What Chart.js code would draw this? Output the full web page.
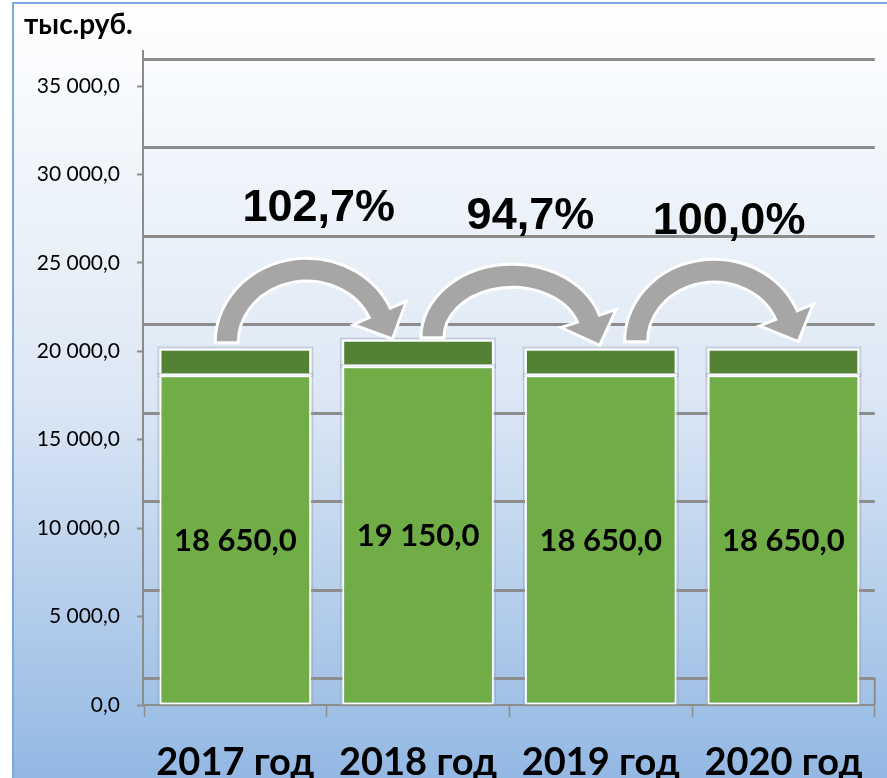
<!DOCTYPE html>
<html>
<head>
<meta charset="utf-8">
<script src="https://cdn.jsdelivr.net/npm/chart.js@4.4.1/dist/chart.umd.min.js"></script>
<style>
  html, body { margin: 0; padding: 0; background: #ffffff; }
  canvas { display: block; }
</style>
</head>
<body>
<canvas id="c" width="887" height="778"></canvas>
<script>
// ---- data ----
const categories = ['2017 год', '2018 год', '2019 год', '2020 год'];
const baseValues = [18650, 19150, 18650, 18650];
const topValues = [1500, 1500, 1500, 1500];
const growthLabels = ['102,7%', '94,7%', '100,0%'];
const unitLabel = 'тыс.руб.';
const yMin = 0;
const yMax = 35000;
const yStep = 5000;

// ---- styles ----
const FONT = 'Lato, "Open Sans", sans-serif';
const WALL_DEPTH = 27;
const GRID_COLOR = '#8c8c8c';
// arrow geometry relative to category midpoint / bar top (styling offsets)
const arrowStyles = [
  { dx: -20, dy: -6, rx: 80, ry: 73, endDeg: 24, lx: 12, ly: -37 },
  { dx: 3,   dy: -2, rx: 80, ry: 62, endDeg: 18, lx: 18, ly: -35 },
  { dx: 22,  dy: -7, rx: 78, ry: 71, endDeg: 22, lx: 15, ly: -25 }
];

function fmt(v) {
  const s = Math.abs(v).toFixed(1).split('.');
  const intPart = s[0].replace(/\B(?=(\d{3})+(?!\d))/g, ' ');
  return (v < 0 ? '-' : '') + intPart + ',' + s[1];
}

const bgPlugin = {
  id: 'bg',
  beforeDraw(chart) {
    const ctx = chart.ctx;
    const W = chart.width, H = chart.height;
    ctx.save();
    ctx.fillStyle = '#ffffff';
    ctx.fillRect(0, 0, W, H);
    const g = ctx.createLinearGradient(0, 2, 0, H);
    g.addColorStop(0, '#ffffff');
    g.addColorStop(0.5, '#dde8f5');
    g.addColorStop(1, '#93b8e3');
    ctx.fillStyle = g;
    ctx.fillRect(12, 2, W - 12, H - 2);
    ctx.strokeStyle = '#7aa9e0';
    ctx.lineWidth = 2;
    ctx.beginPath();
    ctx.moveTo(13, H);
    ctx.lineTo(13, 3);
    ctx.lineTo(W, 3);
    ctx.stroke();
    ctx.restore();
  }
};

const wallPlugin = {
  id: 'wall',
  beforeDatasetsDraw(chart) {
    const ctx = chart.ctx;
    const y = chart.scales.y;
    const area = chart.chartArea;
    ctx.save();
    ctx.strokeStyle = GRID_COLOR;
    ctx.lineWidth = 3;
    y.ticks.forEach(t => {
      const py = Math.round(y.getPixelForValue(t.value) - WALL_DEPTH) + 0.5;
      ctx.beginPath();
      ctx.moveTo(area.left, py);
      ctx.lineTo(area.right, py);
      ctx.stroke();
    });
    // left wall / axis line
    ctx.lineWidth = 2;
    const topY = y.getPixelForValue(yMax) - WALL_DEPTH - 9;
    ctx.beginPath();
    ctx.moveTo(area.left - 1, topY);
    ctx.lineTo(area.left - 1, area.bottom);
    ctx.stroke();
    // right floor edge
    const zb = y.getPixelForValue(0);
    ctx.beginPath();
    ctx.moveTo(area.right, zb - WALL_DEPTH);
    ctx.lineTo(area.right, zb);
    ctx.stroke();
    ctx.restore();
  },
  beforeDatasetDraw(chart, args) {
    // faint outer edge around each bar segment
    const ctx = chart.ctx;
    ctx.save();
    ctx.strokeStyle = 'rgba(150,160,170,0.55)';
    ctx.lineWidth = 1;
    args.meta.data.forEach(bar => {
      const w = bar.width;
      const top = Math.min(bar.y, bar.base), bot = Math.max(bar.y, bar.base);
      ctx.strokeRect(bar.x - w / 2 - 1.5, top - 1.5, w + 3, bot - top + 3);
    });
    ctx.restore();
  }
};

const overlayPlugin = {
  id: 'overlay',
  afterDatasetsDraw(chart) {
    const ctx = chart.ctx;
    const xs = chart.scales.x, ys = chart.scales.y;
    ctx.save();
    // value labels in base segment
    const meta0 = chart.getDatasetMeta(0);
    ctx.fillStyle = '#000000';
    ctx.font = 'bold 31px ' + FONT;
    ctx.textAlign = 'center';
    ctx.textBaseline = 'middle';
    meta0.data.forEach((bar, i) => {
      const cy = (bar.y + bar.base) / 2;
      ctx.fillText(fmt(baseValues[i]), bar.x, cy + 1);
    });
    // arrows
    arrowStyles.forEach((a, i) => {
      const mid = (xs.getPixelForValue(i) + xs.getPixelForValue(i + 1)) / 2;
      const cx = mid + a.dx;
      const cy = ys.getPixelForValue(baseValues[i] + topValues[i]) + a.dy;
      const t = 23;
      const th = a.endDeg * Math.PI / 180;
      const endAng = 2 * Math.PI - th;
      const ex = cx + a.rx * Math.cos(th), ey = cy - a.ry * Math.sin(th);
      const ox = cx + (a.rx + t / 2) * Math.cos(th), oy = cy - (a.ry + t / 2) * Math.sin(th);
      let nx = ox - ex, ny = oy - ey;
      const nl = Math.hypot(nx, ny); nx /= nl; ny /= nl;
      let dxv = a.rx * Math.sin(th), dyv = a.ry * Math.cos(th);
      const dl = Math.hypot(dxv, dyv); dxv /= dl; dyv /= dl;
      const hw = 29, hl = 29;
      ctx.beginPath();
      ctx.ellipse(cx, cy, a.rx + t / 2, a.ry + t / 2, 0, Math.PI, endAng, false);
      ctx.lineTo(ex + nx * hw, ey + ny * hw);
      ctx.lineTo(ex + dxv * hl, ey + dyv * hl);
      ctx.lineTo(ex - nx * hw, ey - ny * hw);
      ctx.ellipse(cx, cy, a.rx - t / 2, a.ry - t / 2, 0, endAng, Math.PI, true);
      ctx.closePath();
      ctx.fillStyle = '#a6a6a6';
      ctx.fill();
      ctx.strokeStyle = '#ffffff';
      ctx.lineWidth = 3;
      ctx.lineJoin = 'miter';
      ctx.stroke();
      // growth label
      ctx.fillStyle = '#000000';
      ctx.font = 'bold 45px "Liberation Sans", Arial, sans-serif';
      ctx.textAlign = 'center';
      ctx.textBaseline = 'alphabetic';
      const topOuter = cy - a.ry - t / 2;
      ctx.fillText(growthLabels[i], cx + a.lx, topOuter + a.ly);
    });
    // unit label
    ctx.fillStyle = '#000000';
    ctx.font = 'bold 28px ' + FONT;
    ctx.textAlign = 'left';
    ctx.textBaseline = 'alphabetic';
    ctx.fillText(unitLabel, 24, 34);
    ctx.restore();
  }
};

new Chart(document.getElementById('c'), {
  type: 'bar',
  data: {
    labels: categories,
    datasets: [
      {
        data: baseValues,
        backgroundColor: '#70ad47',
        borderColor: '#ffffff',
        borderWidth: 2,
        borderSkipped: false,
        barPercentage: 0.83,
        categoryPercentage: 1.0
      },
      {
        data: topValues,
        backgroundColor: '#548235',
        borderColor: '#ffffff',
        borderWidth: 2,
        borderSkipped: false,
        barPercentage: 0.83,
        categoryPercentage: 1.0
      }
    ]
  },
  options: {
    responsive: false,
    devicePixelRatio: 1,
    animation: false,
    events: [],
    layout: { padding: { top: 86, right: 12, left: 0, bottom: 0 } },
    plugins: {
      legend: { display: false },
      tooltip: { enabled: false },
      title: { display: false }
    },
    scales: {
      x: {
        stacked: true,
        grid: {
          offset: true,
          drawOnChartArea: false,
          drawTicks: true,
          tickLength: 12,
          tickColor: GRID_COLOR,
          tickWidth: 1.5
        },
        border: { display: true, color: GRID_COLOR, width: 2 },
        ticks: {
          color: '#000000',
          font: { family: FONT, size: 38, weight: 'bold' },
          padding: 23,
          maxRotation: 0,
          autoSkip: false
        },
        afterFit(scale) { scale.height = 73; }
      },
      y: {
        stacked: true,
        min: yMin,
        max: yMax,
        grid: {
          drawOnChartArea: false,
          drawTicks: true,
          tickLength: 7,
          tickColor: GRID_COLOR,
          tickWidth: 2
        },
        border: { display: false },
        ticks: {
          stepSize: yStep,
          color: '#000000',
          font: { family: FONT, size: 21 },
          padding: 17,
          callback: (v) => fmt(v)
        },
        afterFit(scale) { scale.width = 144; }
      }
    }
  },
  plugins: [bgPlugin, wallPlugin, overlayPlugin]
});
</script>
</body>
</html>
